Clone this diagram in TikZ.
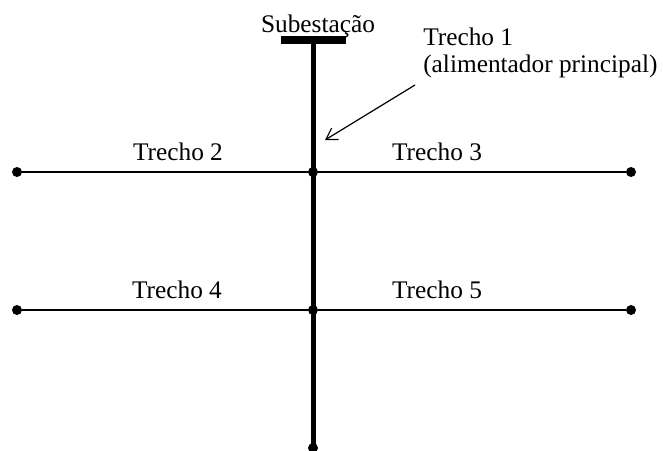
\documentclass[tikz,border=0pt]{standalone}
\usepackage{fontspec}
\setmainfont{Liberation Serif}
\usetikzlibrary{arrows.meta}
\tikzset{
  ponto/.style={circle,fill,inner sep=0pt,minimum size=7.5pt},
  ramal/.style={line width=1.5pt},
  tronco/.style={line width=3.75pt},
  rotulo/.style={font=\fontsize{19}{20.25}\selectfont,inner sep=0pt}
}
\begin{document}
\begin{tikzpicture}[x=0.75pt,y=-0.75pt,>={Straight Barb[length=8pt,width=10pt]}]
  \useasboundingbox (0,0) rectangle (663,450);
  % subestacao e alimentador principal
  \coordinate (B1) at (281,40);
  \coordinate (B2) at (346,40);
  \coordinate (SE) at (313,40);
  \node[ponto] (J1) at (313,172) {};
  \node[ponto] (J2) at (313,310) {};
  \node[ponto] (F) at (313,448) {};
  \draw[line width=6pt] (B1) -- (B2);
  \draw[tronco] (SE) -- (F.center);
  % ramais
  \node[ponto] (E2) at (17,172) {};
  \node[ponto] (E3) at (631,172) {};
  \node[ponto] (E4) at (17,310) {};
  \node[ponto] (E5) at (631,310) {};
  \draw[ramal] (E2) -- (J1) -- (E3);
  \draw[ramal] (E4) -- (J2) -- (E5);
  % textos
  \node[rotulo,anchor=base] (tSE) at (318,32) {Subestação};
  \node[rotulo,anchor=base west,align=left] (t1) at (423,72) {Trecho 1\\(alimentador principal)};
  \node[rotulo,anchor=base] (t2) at (178,160) {Trecho 2};
  \node[rotulo,anchor=base] (t3) at (437,160) {Trecho 3};
  \node[rotulo,anchor=base] (t4) at (177,298) {Trecho 4};
  \node[rotulo,anchor=base] (t5) at (437,298) {Trecho 5};
  % seta
  \coordinate (S0) at (415,85);
  \coordinate (S1) at (325,140);
  \draw[->,line width=0.9pt] (S0) -- (S1);
\end{tikzpicture}
\end{document}
